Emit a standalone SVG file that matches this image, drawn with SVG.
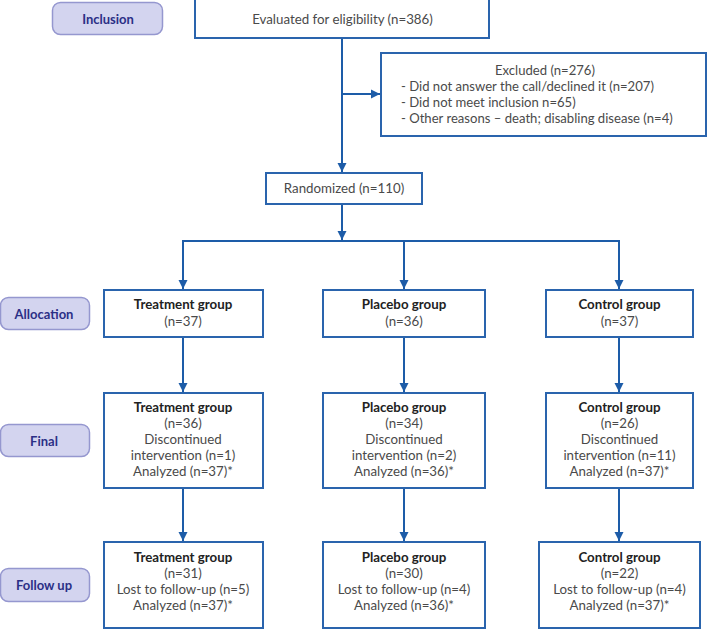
<svg xmlns="http://www.w3.org/2000/svg" width="708" height="632" viewBox="0 0 708 632">
<defs>
<marker id="ah" markerUnits="userSpaceOnUse" markerWidth="10" markerHeight="10" refX="9" refY="5" orient="auto">
<path d="M0,0.5 L9,5 L0,9.5 z" fill="#1d5ca8"/>
</marker>
<style>
.box{fill:#fff;stroke:#2a64ad;stroke-width:2}
.pill{fill:#d3d4ef;stroke:#9597cf;stroke-width:1.5}
.pt{font-family:Lato,"Open Sans","Liberation Sans",sans-serif;font-weight:bold;font-size:13px;fill:#2b2f86;text-anchor:middle}
.t{font-family:Lato,"Open Sans","Liberation Sans",sans-serif;font-size:13.3px;fill:#4a4a4a;text-anchor:middle}
.tl{font-family:Lato,"Open Sans","Liberation Sans",sans-serif;font-size:13.1px;fill:#4a4a4a}
.b{font-weight:bold;fill:#222}
.c{fill:none;stroke:#1d5ca8;stroke-width:2}
</style>
</defs>
<rect width="708" height="632" fill="#fff"/>
<g id="stage-inclusion"><rect class="pill" x="52.5" y="2.5" width="110" height="32" rx="8"/><text class="pt" x="108" y="23.5">Inclusion</text></g>
<g id="stage-allocation"><rect class="pill" x="0.5" y="297.5" width="89" height="32" rx="8"/><text class="pt" x="44" y="318.5">Allocation</text></g>
<g id="stage-final"><rect class="pill" x="0.5" y="424.5" width="89" height="32" rx="8"/><text class="pt" x="44" y="445.5">Final</text></g>
<g id="stage-followup"><rect class="pill" x="0.5" y="568.5" width="89" height="33" rx="8"/><text class="pt" x="44" y="590">Follow up</text></g>
<g id="connectors">
<path class="c" d="M342,38 V172" marker-end="url(#ah)"/>
<path class="c" d="M342,94 H380" marker-end="url(#ah)"/>
<path class="c" d="M342,204 V240" marker-end="url(#ah)"/>
<path class="c" d="M183,289 V241 H619 V289"/>
<path class="c" d="M183,242 V289" marker-end="url(#ah)"/>
<path class="c" d="M404,241 V289" marker-end="url(#ah)"/>
<path class="c" d="M619,242 V289" marker-end="url(#ah)"/>
<path class="c" d="M183,337 V392" marker-end="url(#ah)"/>
<path class="c" d="M404,337 V392" marker-end="url(#ah)"/>
<path class="c" d="M619,337 V392" marker-end="url(#ah)"/>
<path class="c" d="M183,488 V541" marker-end="url(#ah)"/>
<path class="c" d="M404,488 V541" marker-end="url(#ah)"/>
<path class="c" d="M619,488 V541" marker-end="url(#ah)"/>
</g>
<g id="evaluated"><rect class="box" x="195" y="-2" width="294" height="40"/><text class="t" x="342.5" y="23.5">Evaluated for eligibility (n=386)</text></g>
<g id="excluded"><rect class="box" x="381" y="53" width="325" height="83"/>
<text class="t" x="545" y="74.5" style="font-size:13.1px">Excluded (n=276)</text>
<text class="tl" x="401" y="90.5">- Did not answer the call/declined it (n=207)</text>
<text class="tl" x="401" y="106.5">- Did not meet inclusion n=65)</text>
<text class="tl" x="401" y="122.5">- Other reasons – death; disabling disease (n=4)</text></g>
<g id="randomized"><rect class="box" x="266" y="173" width="156" height="31"/><text class="t" x="344" y="193">Randomized (n=110)</text></g>
<g id="alloc-treatment"><rect class="box" x="104" y="290" width="159" height="47"/><text class="t b" x="183" y="308.5">Treatment group</text><text class="t" x="183" y="325.5">(n=37)</text></g>
<g id="alloc-placebo"><rect class="box" x="323" y="290" width="162" height="47"/><text class="t b" x="404" y="308.5">Placebo group</text><text class="t" x="404" y="325.5">(n=36)</text></g>
<g id="alloc-control"><rect class="box" x="546" y="290" width="147" height="47"/><text class="t b" x="619.5" y="308.5">Control group</text><text class="t" x="619.5" y="325.5">(n=37)</text></g>
<g id="final-treatment"><rect class="box" x="104" y="393" width="159" height="95"/><text class="t b" x="183" y="411.5">Treatment group</text><text class="t" x="183" y="427.5">(n=36)</text><text class="t" x="183" y="443.5">Discontinued</text><text class="t" x="183" y="459.5">intervention (n=1)</text><text class="t" x="183" y="475.5">Analyzed (n=37)*</text></g>
<g id="final-placebo"><rect class="box" x="323" y="393" width="162" height="95"/><text class="t b" x="404" y="411.5">Placebo group</text><text class="t" x="404" y="427.5">(n=34)</text><text class="t" x="404" y="443.5">Discontinued</text><text class="t" x="404" y="459.5">intervention (n=2)</text><text class="t" x="404" y="475.5">Analyzed (n=36)*</text></g>
<g id="final-control"><rect class="box" x="546" y="393" width="147" height="95"/><text class="t b" x="619.5" y="411.5">Control group</text><text class="t" x="619.5" y="427.5">(n=26)</text><text class="t" x="619.5" y="443.5">Discontinued</text><text class="t" x="619.5" y="459.5">intervention (n=11)</text><text class="t" x="619.5" y="475.5">Analyzed (n=37)*</text></g>
<g id="fu-treatment"><rect class="box" x="104" y="542" width="159" height="86"/><text class="t b" x="183" y="561.5">Treatment group</text><text class="t" x="183" y="577.5">(n=31)</text><text class="t" x="183" y="594">Lost to follow-up (n=5)</text><text class="t" x="183" y="610">Analyzed (n=37)*</text></g>
<g id="fu-placebo"><rect class="box" x="323" y="542" width="162" height="86"/><text class="t b" x="404" y="561.5">Placebo group</text><text class="t" x="404" y="577.5">(n=30)</text><text class="t" x="404" y="594">Lost to follow-up (n=4)</text><text class="t" x="404" y="610">Analyzed (n=36)*</text></g>
<g id="fu-control"><rect class="box" x="539" y="542" width="161" height="86"/><text class="t b" x="619.5" y="561.5">Control group</text><text class="t" x="619.5" y="577.5">(n=22)</text><text class="t" x="619.5" y="594">Lost to follow-up (n=4)</text><text class="t" x="619.5" y="610">Analyzed (n=37)*</text></g>
</svg>
